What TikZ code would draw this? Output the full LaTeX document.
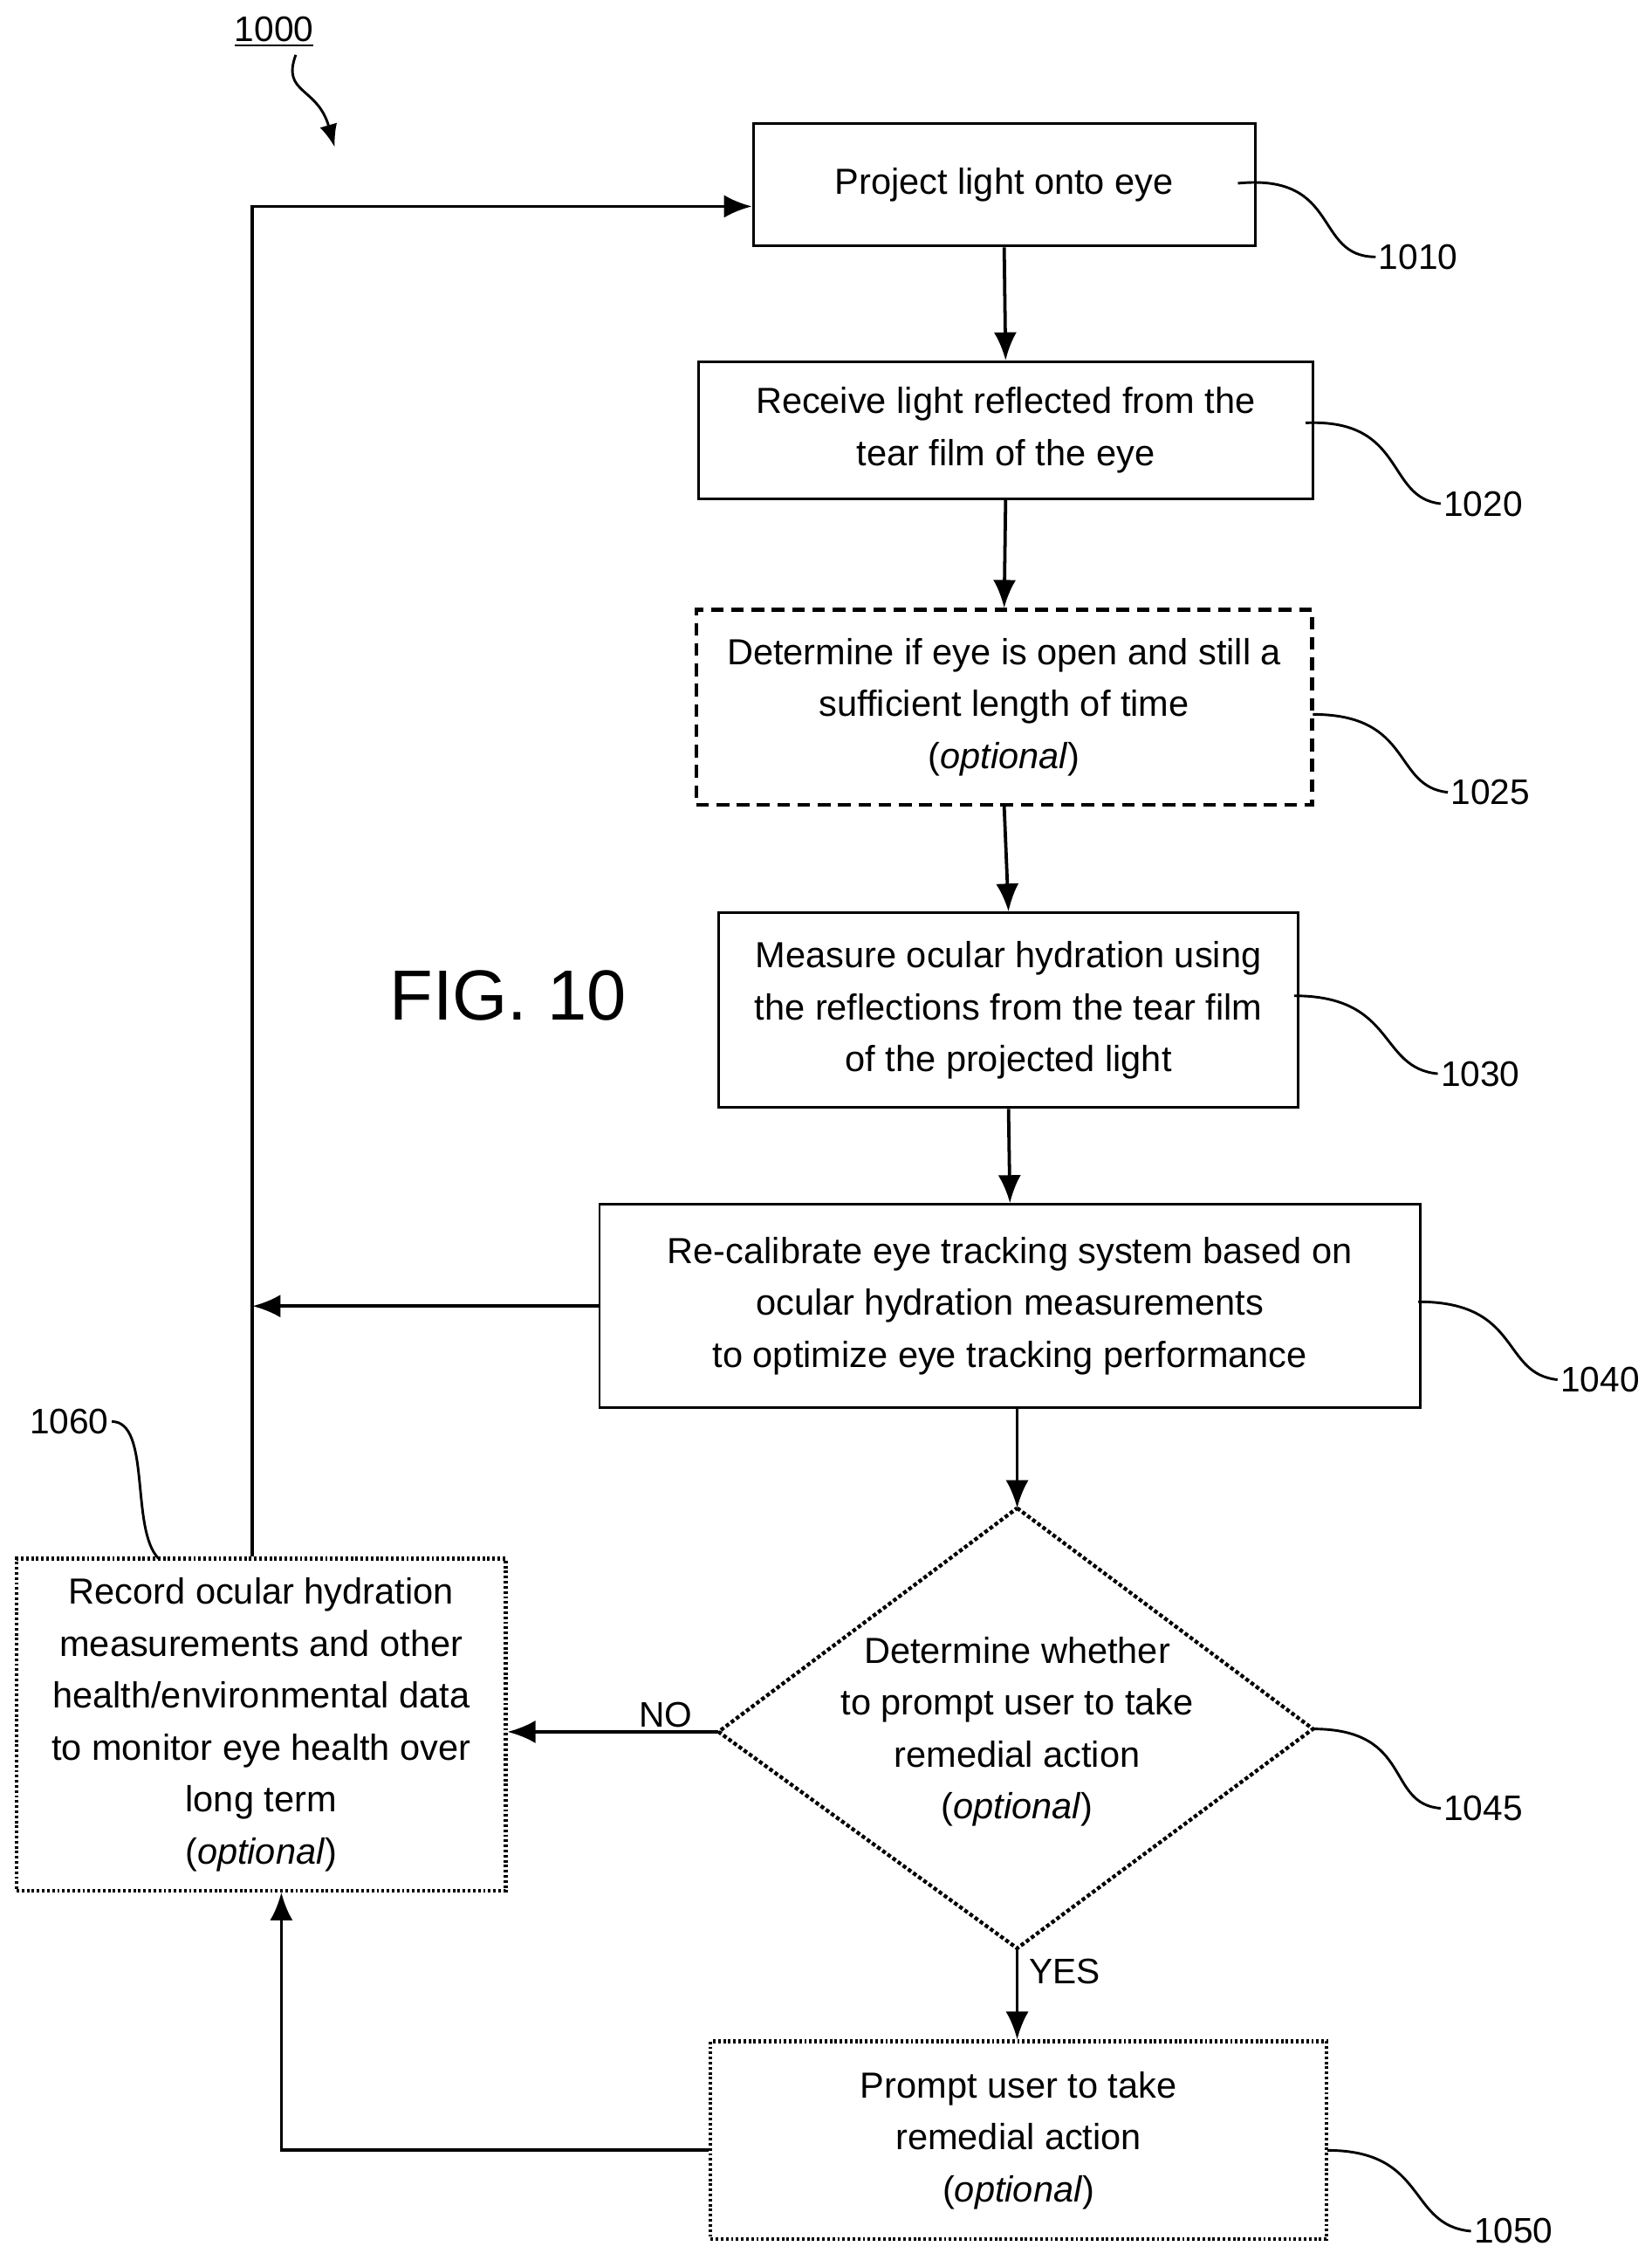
\documentclass[tikz,border=0pt]{standalone}
\usepackage{fontspec}
\setmainfont{Liberation Sans}
\usetikzlibrary{arrows.meta,shapes.geometric}
\begin{document}
\begin{tikzpicture}[x=0.02cm,y=-0.02cm,
 box/.style={draw,line width=1pt,inner sep=0pt,align=center,font=\fontsize{14.3}{20.5}\selectfont},
 arr/.style={line width=1.3pt,-{Latex[length=11pt,width=9pt]}},
 lead/.style={line width=1pt},
 lab/.style={font=\fontsize{14}{16}\selectfont,inner sep=1pt}]
\useasboundingbox (0,0) rectangle (1145,1566);
\node[box,minimum width=6.96cm,minimum height=1.7cm] (b1010) at (696,128) {Project light onto eye};
\node[box,minimum width=8.52cm,minimum height=1.9cm] (b1020) at (697,298) {Receive light reflected from the\\tear film of the eye};
\node[box,dash pattern=on 5pt off 3pt,line width=1.5pt,minimum width=8.54cm,minimum height=2.7cm] (b1025) at (696,490) {Determine if eye is open and still a\\sufficient length of time\\(\textit{optional})};
\node[box,minimum width=8.04cm,minimum height=2.7cm] (b1030) at (699,700) {Measure ocular hydration using\\the reflections from the tear film\\of the projected light};
\node[box,minimum width=11.38cm,minimum height=2.82cm] (b1040) at (700,905) {Re-calibrate eye tracking system based on\\ocular hydration measurements\\to optimize eye tracking performance};
\node[box,densely dotted,line width=1.5pt,minimum width=6.78cm,minimum height=4.6cm] (b1060) at (181,1195) {Record ocular hydration\\measurements and other\\health/environmental data\\to monitor eye health over\\long term\\(\textit{optional})};
\node[box,densely dotted,line width=1.5pt,minimum width=8.54cm,minimum height=2.74cm] (b1050) at (706,1483) {Prompt user to take\\remedial action\\(\textit{optional})};
\coordinate (dT) at (705,1045); \coordinate (dB) at (705,1350);
\coordinate (dL) at (498,1200); \coordinate (dR) at (910,1198);
\draw[densely dotted,line width=1.5pt] (dT)--(dR)--(dB)--(dL)--cycle;
\node[align=center,font=\fontsize{14.3}{20.5}\selectfont] (b1045) at (705,1200) {Determine whether\\to prompt user to take\\remedial action\\(\textit{optional})};
\node[font=\fontsize{28}{34}\selectfont] (fig) at (352,690) {FIG. 10};
\draw[arr] (b1010.south) -- (b1020.north);
\draw[arr] (b1020.south) -- (b1025.north);
\draw[arr] (b1025.south) -- (b1030.north);
\draw[arr] (b1030.south) -- (b1040.north);
\draw[arr] (705,976) -- (dT);
\draw[arr] (dB) -- node[right,lab,xshift=3pt,pos=0.25]{YES} (b1050.north -| dB);
\draw[arr] (dL) -- node[above,lab,pos=0.25]{NO} (b1060.east |- dL);
\coordinate (c1) at (175,143);
\draw[arr] (b1060.north -| c1) -- (c1) -- (b1010.west |- c1);
\draw[arr] (b1040.west) -- (175,905);
\coordinate (c2) at (195,1490);
\draw[arr] (b1050.west |- c2) -- (c2) -- (b1060.south -| c2);
\node[lab] (l1010) at (983,178) {1010};
\draw[lead] (858,127) .. controls (930,120) and (910,178) .. (l1010.west);
\node[lab] (l1020) at (1028,349) {1020};
\draw[lead] (905,293) .. controls (975,290) and (960,345) .. (l1020.west);
\node[lab] (l1025) at (1033,549) {1025};
\draw[lead] (910,495) .. controls (980,495) and (965,545) .. (l1025.west);
\node[lab] (l1030) at (1026,744) {1030};
\draw[lead] (897,690) .. controls (968,690) and (955,740) .. (l1030.west);
\node[lab] (l1040) at (1109,956) {1040};
\draw[lead] (983,902) .. controls (1055,902) and (1040,952) .. (l1040.west);
\node[lab] (l1045) at (1028,1253) {1045};
\draw[lead] (910,1198) .. controls (980,1198) and (960,1250) .. (l1045.west);
\node[lab] (l1050) at (1049,1546) {1050};
\draw[lead] (920,1490) .. controls (990,1490) and (975,1542) .. (l1050.west);
\node[lab] (l1060) at (48,985) {1060};
\draw[lead] (l1060.east) .. controls (105,985) and (90,1060) .. (110,1080);
\node[lab] (l1000) at (190,22) {\underline{1000}};
\coordinate (a1000) at (232,102);
\draw[lead,-{Latex[length=9pt,width=7pt]}] (205,38) .. controls (195,65) and (220,60) .. (a1000);
\end{tikzpicture}
\end{document}
